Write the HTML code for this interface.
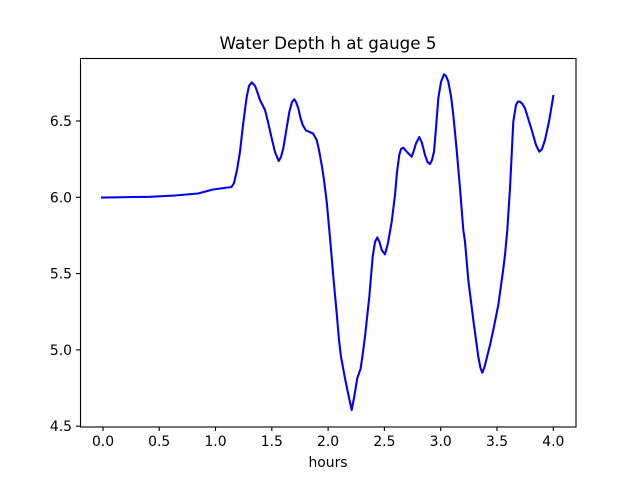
<!DOCTYPE html>
<html><head><meta charset="utf-8"><style>
html,body{margin:0;padding:0;background:#fff;}
svg{display:block;}
text{font-family:"DejaVu Sans","Liberation Sans",sans-serif;fill:#000;}
</style></head><body>
<svg width="640" height="480" viewBox="0 0 640 480" xmlns="http://www.w3.org/2000/svg">
<rect x="0" y="0" width="640" height="480" fill="#fff"/>
<polyline fill="none" stroke="#0000ff" stroke-width="2.1" stroke-linejoin="round" stroke-linecap="square" points="
102,197.5 150,196.8 175,195.5 198,193.5 213,189.5 231.5,187 234,183 237,170 240,151.7 243,125 246.7,97 249,86 251.7,82.3 255,85.7 258,94 260,100 265,110 268,122 271.7,138.3 275,152 278.7,161 281,157 283.3,148.3 286,132 289.3,112 292,102 294.3,99.3 296,102 298.3,108.3 300.5,118 302.7,125 306,130.5 309,131.7 313,133.5 316.7,140 319,150 321.7,165 324,180 326.7,201.7 329.3,230 331.5,255 333.3,276.7 336.7,313.3 339,340 341,356.7 345,378.3 348,393 351.7,410 354,398 357.3,378.3 360.7,368.3 363,352 365,336.7 369.3,296.7 372.7,256.7 375,242 377.3,237.5 379.5,242 381.7,250 385,254.3 388,243 391.7,221.7 395,195 397,172 399.3,155 401,149 403.3,147.7 407,152 411.7,156.7 414,150 416,143.3 419.3,137 422,143 425,155 427.5,162 430,164 432,160 434,151.7 436,128 438.3,98.3 441,82 444,74.3 446,76 448.3,81.7 451,96 453.3,115 456.5,148 460,188.3 463.3,230 465,241.7 468.3,280 473.3,320 478.3,356.7 480.5,368 482.3,372.7 484.5,367 486.7,358.3 490,345 493.3,330 498.3,305 502.7,273.3 505,255 507.3,230 510,188.3 513.3,121.7 516,105 518,101.5 520,101.7 522.5,104 525,108.3 528,118 531.7,130 536,145 539.3,151.7 542,149 545,140 549.3,120 553.3,96"/>
<rect x="80.5" y="58.5" width="495.5" height="368.5" fill="none" stroke="#000" stroke-width="1.1"/>
<g stroke="#000" stroke-width="1.1">
<line x1="103" y1="427" x2="103" y2="431"/>
<line x1="159.2" y1="427" x2="159.2" y2="431"/>
<line x1="215.5" y1="427" x2="215.5" y2="431"/>
<line x1="271.8" y1="427" x2="271.8" y2="431"/>
<line x1="328.1" y1="427" x2="328.1" y2="431"/>
<line x1="384.4" y1="427" x2="384.4" y2="431"/>
<line x1="440.7" y1="427" x2="440.7" y2="431"/>
<line x1="497" y1="427" x2="497" y2="431"/>
<line x1="553.3" y1="427" x2="553.3" y2="431"/>
<line x1="76" y1="121" x2="80" y2="121"/>
<line x1="76" y1="197.3" x2="80" y2="197.3"/>
<line x1="76" y1="273.6" x2="80" y2="273.6"/>
<line x1="76" y1="349.9" x2="80" y2="349.9"/>
<line x1="76" y1="426.2" x2="80" y2="426.2"/>
</g>
<g font-size="13.9" text-anchor="middle">
<text x="103" y="446">0.0</text>
<text x="159.2" y="446">0.5</text>
<text x="215.5" y="446">1.0</text>
<text x="271.8" y="446">1.5</text>
<text x="328.1" y="446">2.0</text>
<text x="384.4" y="446">2.5</text>
<text x="440.7" y="446">3.0</text>
<text x="497" y="446">3.5</text>
<text x="553.3" y="446">4.0</text>
<text x="328" y="467">hours</text>
</g>
<g font-size="13.9" text-anchor="end">
<text x="72" y="126">6.5</text>
<text x="72" y="202.3">6.0</text>
<text x="72" y="278.6">5.5</text>
<text x="72" y="354.9">5.0</text>
<text x="72" y="431.2">4.5</text>
</g>
<text x="328" y="49" font-size="16.7" text-anchor="middle">Water Depth h at gauge 5</text>
</svg>
</body></html>
